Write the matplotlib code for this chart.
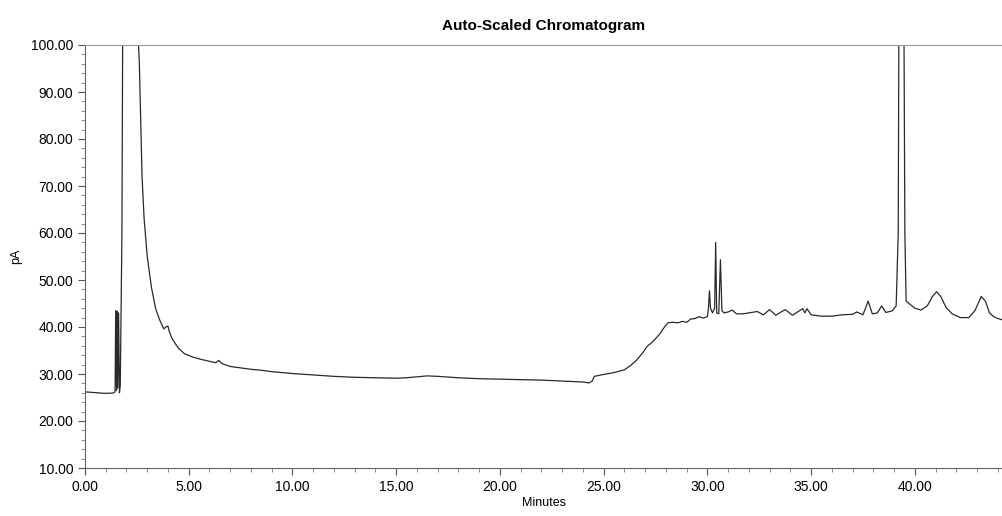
import numpy as np
import matplotlib.pyplot as plt
from matplotlib.ticker import MultipleLocator, FormatStrFormatter

# retention time (min) and detector signal (pA)
minutes = [
    0.00, 0.30, 0.60, 0.90, 1.20, 1.40, 1.45, 1.48, 1.52, 1.55, 1.58, 1.62, 1.66,
    1.70, 1.78, 1.84, 2.50, 2.58, 2.62, 2.68, 2.75, 2.85, 3.00, 3.20, 3.40, 3.60,
    3.80, 3.90, 4.00, 4.05, 4.20, 4.50, 4.80, 5.20, 5.60, 6.00, 6.30, 6.45, 6.60,
    7.00, 7.50, 8.00, 8.50, 9.00, 9.50, 10.0, 11.0, 12.0, 13.0, 14.0, 15.0, 15.5,
    16.0, 16.5, 17.0, 18.0, 19.0, 20.0, 21.0, 22.0, 23.0, 23.5, 24.0, 24.3, 24.45,
    24.55, 25.0, 25.5, 26.0, 26.3, 26.6, 26.9, 27.1, 27.3, 27.5, 27.7, 27.9, 28.1,
    28.3, 28.6, 28.8, 29.0, 29.2, 29.4, 29.6, 29.8, 30.0, 30.05, 30.1, 30.15, 30.25,
    30.35, 30.4, 30.45, 30.55, 30.63, 30.7, 30.8, 31.0, 31.2, 31.4, 31.7, 32.0,
    32.4, 32.7, 33.0, 33.3, 33.75, 34.1, 34.6, 34.7, 34.8, 35.0, 35.5, 36.0, 36.5,
    37.0, 37.2, 37.5, 37.75, 37.95, 38.2, 38.4, 38.6, 38.9, 39.1, 39.2, 39.25,
    39.45, 39.52, 39.58, 39.8, 40.0, 40.3, 40.6, 40.85, 41.05, 41.25, 41.5, 41.8,
    42.2, 42.6, 42.9, 43.2, 43.4, 43.6, 43.8, 44.0, 44.25,
]
signal = [
    26.2, 26.1, 26.0, 25.9, 25.9, 26.0, 26.3, 43.5, 26.5, 43.4, 27.0, 43.0, 26.0,
    27.5, 60.0, 130.0, 130.0, 100.0, 96.0, 85.0, 72.0, 63.0, 55.0, 48.5, 44.0, 41.5,
    39.6, 40.0, 40.2, 39.2, 37.5, 35.5, 34.3, 33.6, 33.1, 32.7, 32.4, 32.9, 32.2,
    31.6, 31.3, 31.0, 30.8, 30.5, 30.3, 30.1, 29.8, 29.5, 29.3, 29.2, 29.1, 29.2,
    29.4, 29.6, 29.5, 29.2, 29.0, 28.9, 28.8, 28.7, 28.5, 28.4, 28.3, 28.1, 28.5,
    29.5, 29.9, 30.3, 30.9, 31.8, 33.0, 34.6, 35.9, 36.6, 37.5, 38.5, 39.8, 40.9,
    41.0, 40.9, 41.2, 41.0, 41.7, 41.8, 42.2, 41.9, 42.2, 44.0, 47.7, 44.0, 43.0,
    44.0, 58.0, 43.0, 42.8, 54.3, 43.5, 43.0, 43.2, 43.6, 42.8, 42.8, 43.0,
    43.3, 42.6, 43.7, 42.5, 43.7, 42.5, 43.9, 43.0, 43.9, 42.6, 42.3, 42.3, 42.6,
    42.7, 43.2, 42.6, 45.5, 42.8, 43.0, 44.5, 43.1, 43.4, 44.5, 60.0, 130.0,
    130.0, 60.0, 45.5, 44.7, 44.0, 43.6, 44.5, 46.5, 47.5, 46.5, 44.2, 42.8,
    42.0, 42.0, 43.5, 46.5, 45.5, 43.0, 42.2, 41.8, 41.5,
]

plt.rcParams['font.family'] = ['Liberation Sans', 'DejaVu Sans']

fig = plt.figure(figsize=(10.03, 5.16), dpi=100)
ax = fig.add_axes([85 / 1003, 1 - 468 / 516, 1 - 85 / 1003, (468 - 45) / 516])

ax.plot(minutes, signal, color='#2a2a2a', lw=0.9)

ax.set_xlim(0, 44.25)
ax.set_ylim(10, 100)
ax.xaxis.set_major_locator(MultipleLocator(5))
ax.xaxis.set_minor_locator(MultipleLocator(1))
ax.yaxis.set_major_locator(MultipleLocator(10))
ax.yaxis.set_minor_locator(MultipleLocator(2))
ax.xaxis.set_major_formatter(FormatStrFormatter('%.2f'))
ax.yaxis.set_major_formatter(FormatStrFormatter('%.2f'))
ax.tick_params(which='major', length=5, width=0.8, color='#555', labelsize=10)
ax.tick_params(which='minor', length=3, width=0.6, color='#777')

ax.spines['right'].set_visible(False)
ax.spines['top'].set_color('#999')
for s in ('left', 'bottom'):
    ax.spines[s].set_color('#666')

ax.set_title('Auto-Scaled Chromatogram', fontsize=11, fontweight='bold', pad=11)
ax.set_xlabel('Minutes', fontsize=9, labelpad=2)
ax.set_ylabel('pA', fontsize=9, labelpad=6)

fig.savefig('out.png', dpi=100)
